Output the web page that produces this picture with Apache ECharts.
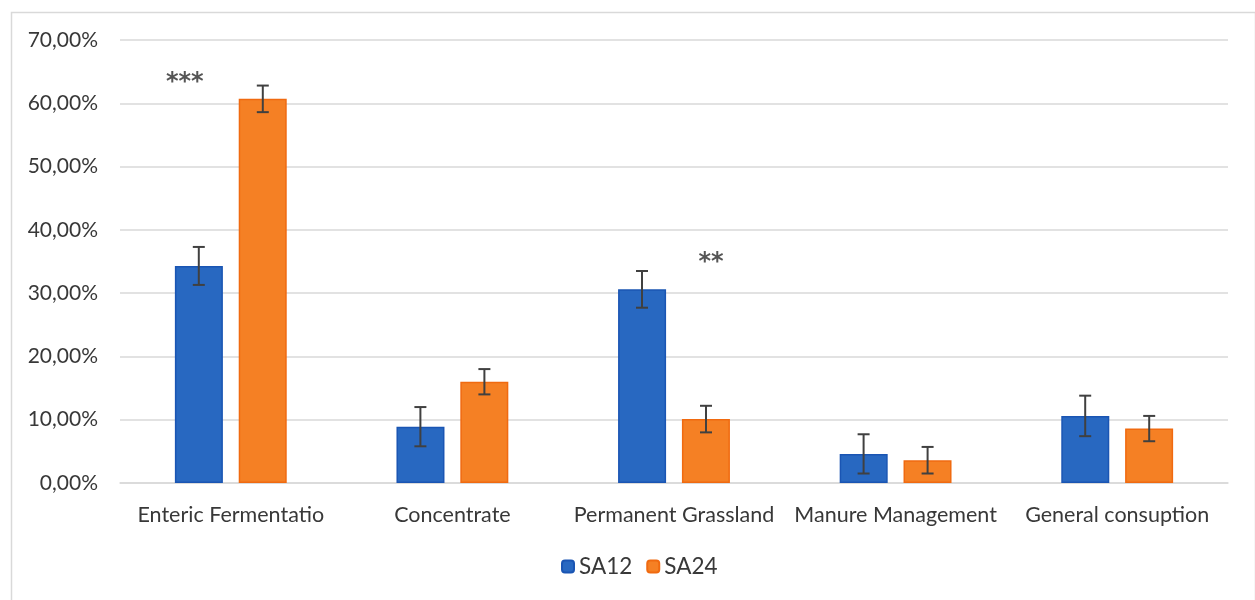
<!DOCTYPE html>
<html>
<head>
<meta charset="utf-8">
<script src="https://cdn.jsdelivr.net/npm/echarts@6/dist/echarts.min.js"></script>
<style>
html,body{margin:0;padding:0;background:#fff;}
#main{width:1255px;height:600px;}
</style>
</head>
<body>
<div id="main"></div>
<script>
const categories = ['Enteric Fermentatio', 'Concentrate', 'Permanent Grassland', 'Manure Management', 'General consuption'];
const sa12 = [34.3, 8.9, 30.6, 4.6, 10.6];
const sa24 = [60.7, 16.0, 10.1, 3.6, 8.6];
const sa12Err = [3.0, 3.1, 2.9, 3.1, 3.2];
const sa24Err = [2.1, 2.0, 2.1, 2.1, 2.0];
const annotCats = ['Enteric Fermentatio', 'Permanent Grassland'];
const annotValues = [63.2, 34.8];
const annotTexts = ['***', '**'];
const yTicks = [0, 10, 20, 30, 40, 50, 60, 70];

const FONT = 'Lato, "Open Sans", sans-serif';
const TXT = '#383838';
const chart = echarts.init(document.getElementById('main'));

function errSeries(name, vals, errs, offset) {
  return {
    type: 'custom',
    name: name + ' err',
    z: 10,
    silent: true,
    renderItem: function (params, api) {
      const ci = api.value(0);
      const v = api.value(1), e = api.value(2);
      const top = api.coord([ci, v + e]);
      const bot = api.coord([ci, v - e]);
      const x = top[0] + offset;
      const cap = 6;
      const st = { stroke: '#404040', lineWidth: 2 };
      return {
        type: 'group',
        children: [
          { type: 'line', shape: { x1: x, y1: top[1], x2: x, y2: bot[1] }, style: st },
          { type: 'line', shape: { x1: x - cap, y1: top[1], x2: x + cap, y2: top[1] }, style: st },
          { type: 'line', shape: { x1: x - cap, y1: bot[1], x2: x + cap, y2: bot[1] }, style: st }
        ]
      };
    },
    data: vals.map((v, i) => [i, v, errs[i]])
  };
}

chart.setOption({
  animation: false,
  backgroundColor: '#ffffff',
  graphic: [{
    type: 'rect', left: 9, top: 10, shape: { width: 1244, height: 600 },
    style: { fill: 'none', stroke: '#d9d9d9', lineWidth: 1.5 }, silent: true
  }],
  grid: { left: 120, right: 27, top: 40, bottom: 117 },
  legend: {
    data: ['SA12', 'SA24'],
    bottom: 17,
    left: 556,
    itemWidth: 12, itemHeight: 12, itemGap: 14,
    textStyle: { fontFamily: FONT, fontSize: 22.5, color: TXT }
  },
  xAxis: {
    type: 'category',
    data: categories,
    axisLine: { show: true, lineStyle: { color: '#d9d9d9', width: 1.5 } },
    axisTick: { show: false },
    axisLabel: { fontFamily: FONT, fontSize: 21.5, color: TXT, margin: 21, interval: 0 }
  },
  yAxis: {
    type: 'value',
    min: 0, max: 70, interval: 10,
    axisLine: { show: false },
    axisTick: { show: false },
    splitLine: { lineStyle: { color: '#d9d9d9', width: 1.5 } },
    axisLabel: {
      fontFamily: FONT, fontSize: 21, color: TXT, margin: 22,
      formatter: v => v.toFixed(2).replace('.', ',') + '%'
    }
  },
  series: [
    {
      name: 'SA12', type: 'bar', data: sa12, barWidth: 48, barGap: '33%',
      itemStyle: { color: '#2868c1', borderColor: '#1a55b3', borderWidth: 1.5 }
    },
    {
      name: 'SA24', type: 'bar', data: sa24, barWidth: 48,
      itemStyle: { color: '#f58024', borderColor: '#f06a10', borderWidth: 1.5 }
    },
    errSeries('SA12', sa12, sa12Err, -32),
    errSeries('SA24', sa24, sa24Err, 32),
    {
      type: 'scatter', name: 'annot', symbolSize: 0, silent: true,
      data: annotCats.map((c, i) => ({
        value: [c, annotValues[i]],
        label: {
          show: true, formatter: annotTexts[i], position: 'inside',
          offset: i === 0 ? [-46, 0] : [37, 0],
          fontFamily: '"DejaVu Sans", sans-serif', fontSize: 24, fontWeight: 'bold', color: '#2a2a2a'
        }
      }))
    }
  ]
});
</script>
</body>
</html>
